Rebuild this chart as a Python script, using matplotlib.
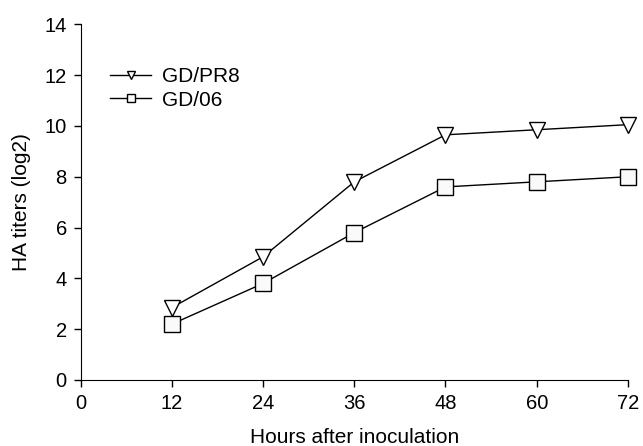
import matplotlib.pyplot as plt

plt.rcParams['font.family'] = ['Liberation Sans', 'DejaVu Sans']

hours = [12, 24, 36, 48, 60, 72]
gd_pr8 = [2.85, 4.85, 7.8, 9.65, 9.85, 10.05]
gd_06 = [2.2, 3.8, 5.8, 7.6, 7.8, 8.0]

fig = plt.figure(figsize=(6.43, 4.46), dpi=100)
ax = fig.add_axes([0.1255, 0.148, 0.851, 0.7975])

# clip_on off so the markers at 72 h are not cut by the axes edge
ax.plot(hours, gd_pr8, color='black', lw=1, marker='v', markersize=11.5,
        markerfacecolor='white', markeredgecolor='black', markeredgewidth=1,
        label='GD/PR8', clip_on=False)
ax.plot(hours, gd_06, color='black', lw=1, marker='s', markersize=11,
        markerfacecolor='#fafafa', markeredgecolor='black', markeredgewidth=1,
        label='GD/06', clip_on=False)

ax.set_xlim(0, 72)
ax.set_ylim(0, 14)
ax.set_xticks(range(0, 73, 12))
ax.set_yticks(range(0, 15, 2))
ax.spines['top'].set_visible(False)
ax.spines['right'].set_visible(False)
ax.tick_params(direction='out', length=5, width=1, labelsize=14.5, pad=5)
ax.set_xlabel('Hours after inoculation', fontsize=15, labelpad=11)
ax.set_ylabel('HA titers (log2)', fontsize=15, labelpad=10)

# legend sits high in the upper left, no frame
leg = ax.legend(loc='upper left', bbox_to_anchor=(0.053, 0.879), frameon=False,
                fontsize=15, handlelength=2.0, markerscale=0.55,
                handletextpad=0.5, labelspacing=0.2, borderpad=0, borderaxespad=0)

fig.savefig('out.png', dpi=100)
